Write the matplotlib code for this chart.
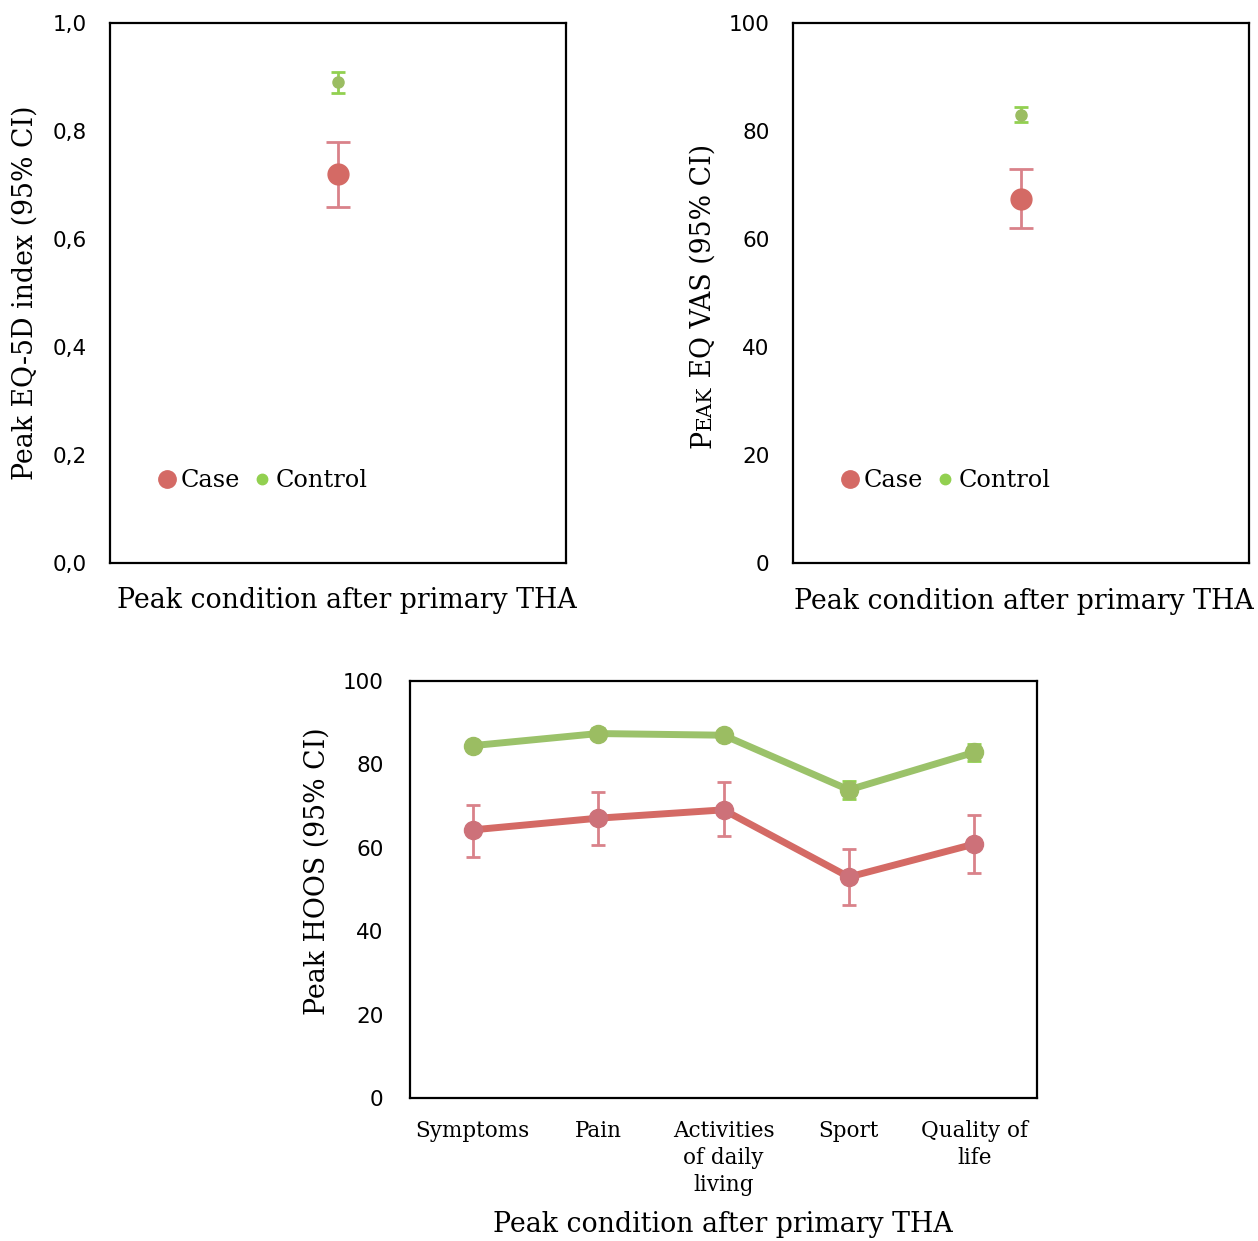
import matplotlib
matplotlib.use("Agg")
import matplotlib.pyplot as plt
from matplotlib.lines import Line2D
import numpy as np

# EQ-5D index (peak condition after primary THA)
eq5d_case = 0.72
eq5d_case_ci = (0.66, 0.78)
eq5d_ctrl = 0.89
eq5d_ctrl_ci = (0.87, 0.91)

# EQ VAS
vas_case = 67.5
vas_case_ci = (62.0, 73.0)
vas_ctrl = 83.0
vas_ctrl_ci = (81.7, 84.5)

# HOOS subscales
hoos_cats = ["Symptoms", "Pain", "Activities\nof daily\nliving", "Sport", "Quality of\nlife"]
hoos_case = [64.3, 67.1, 69.1, 53.0, 60.9]
hoos_case_lo = [57.8, 60.7, 62.8, 46.3, 54.0]
hoos_case_hi = [70.3, 73.4, 75.8, 59.7, 67.9]
hoos_ctrl = [84.5, 87.4, 87.0, 73.9, 82.9]
hoos_ctrl_lo = [83.3, 86.1, 85.8, 71.7, 80.9]
hoos_ctrl_hi = [85.7, 88.7, 88.2, 76.0, 84.9]

RED_LINE = "#D46A65"
RED_MARK = "#CD7179"
RED_ERR = "#D9828A"
GREEN_LINE = "#9BC26A"
GREEN_MARK = "#9BBD62"
GREEN_ERR = "#92D050"
SERIF = "DejaVu Serif"
SANS = "DejaVu Sans"
TITLE_SIZE = 19.3

W, H = 1258, 1241
fig = plt.figure(figsize=(W / 100, H / 100), dpi=100)


def px_axes(x0, y0, x1, y1):
    return fig.add_axes([x0 / W, 1 - y1 / H, (x1 - x0) / W, (y1 - y0) / H])


def style_axes(ax, ypad):
    for s in ax.spines.values():
        s.set_linewidth(1.6)
        s.set_color("black")
    ax.tick_params(axis="y", length=0, pad=ypad, labelsize=15.5)
    ax.tick_params(axis="x", length=0)
    for lab in ax.get_yticklabels():
        lab.set_fontfamily(SANS)


def single_panel(ax, case, case_ci, ctrl, ctrl_ci, ymax, step, fmt):
    ax.errorbar([0], [case], yerr=[[case - case_ci[0]], [case_ci[1] - case]],
                fmt="none", ecolor=RED_ERR, elinewidth=2, capsize=8.5, capthick=2, zorder=2)
    ax.plot([0], [case], "o", color=RED_LINE, ms=15, zorder=3)
    ax.errorbar([0], [ctrl], yerr=[[ctrl - ctrl_ci[0]], [ctrl_ci[1] - ctrl]],
                fmt="none", ecolor=GREEN_ERR, elinewidth=2, capsize=5, capthick=2, zorder=2)
    ax.plot([0], [ctrl], "o", color=GREEN_MARK, ms=8, zorder=3)
    ax.set_xlim(-0.5, 0.5)
    ax.set_ylim(0, ymax)
    ax.set_xticks([])
    ticks = np.arange(0, ymax + step / 2, step)
    ax.set_yticks(ticks)
    ax.set_yticklabels([fmt(t) for t in ticks])
    style_axes(ax, 17)
    handles = [Line2D([], [], ls="none", marker="o", color=RED_LINE, ms=12.5),
               Line2D([], [], ls="none", marker="o", color=GREEN_ERR, ms=7.5)]
    ax.legend(handles, ["Case", "Control"], ncol=2, frameon=False,
              loc="center", bbox_to_anchor=(0.332, 0.152),
              prop={"family": SERIF, "size": 17.3}, handletextpad=0.05,
              columnspacing=0.45, handlelength=1.0)


# top left: EQ-5D index
ax1 = px_axes(110, 23, 566, 563)
single_panel(ax1, eq5d_case, eq5d_case_ci, eq5d_ctrl, eq5d_ctrl_ci, 1.0, 0.2,
             lambda t: f"{t:.1f}".replace(".", ","))

# top right: EQ VAS
ax2 = px_axes(793, 23, 1249, 563)
single_panel(ax2, vas_case, vas_case_ci, vas_ctrl, vas_ctrl_ci, 100, 20,
             lambda t: f"{t:.0f}")

# bottom: HOOS
ax3 = px_axes(410, 681, 1037, 1098)
x = np.arange(len(hoos_cats))
case = np.array(hoos_case)
ctrl = np.array(hoos_ctrl)
ax3.errorbar(x, case, yerr=[case - np.array(hoos_case_lo), np.array(hoos_case_hi) - case],
             fmt="none", ecolor=RED_ERR, elinewidth=2, capsize=5, capthick=2, zorder=2)
ax3.errorbar(x, ctrl, yerr=[ctrl - np.array(hoos_ctrl_lo), np.array(hoos_ctrl_hi) - ctrl],
             fmt="none", ecolor=GREEN_ERR, elinewidth=2, capsize=5, capthick=2, zorder=2)
ax3.plot(x, case, "-", color=RED_LINE, lw=5, zorder=3)
ax3.plot(x, case, "o", color=RED_MARK, ms=13, zorder=4)
ax3.plot(x, ctrl, "-", color=GREEN_LINE, lw=5, zorder=3)
ax3.plot(x, ctrl, "o", color=GREEN_MARK, ms=13, zorder=4)
ax3.set_xlim(-0.5, len(hoos_cats) - 0.5)
ax3.set_ylim(0, 100)
ax3.set_yticks(np.arange(0, 101, 20))
ax3.set_xticks(x)
ax3.set_xticklabels(hoos_cats, family=SERIF, fontsize=15.5, linespacing=1.3)
style_axes(ax3, 19)
ax3.tick_params(axis="x", pad=16)

# axis titles
xlab = "Peak condition after primary THA"
fig.text(347 / W, 1 - 601 / H, xlab, family=SERIF, fontsize=TITLE_SIZE, ha="center", va="center")
fig.text(1024 / W, 1 - 602 / H, xlab, family=SERIF, fontsize=TITLE_SIZE, ha="center", va="center")
fig.text(723 / W, 1 - 1225 / H, xlab, family=SERIF, fontsize=TITLE_SIZE, ha="center", va="center")

fig.text(25 / W, 1 - 293 / H, "Peak EQ-5D index (95% CI)", family=SERIF, fontsize=TITLE_SIZE,
         rotation=90, ha="center", va="center")
fig.text(317 / W, 1 - 871 / H, "Peak HOOS (95% CI)", family=SERIF, fontsize=TITLE_SIZE,
         rotation=90, ha="center", va="center")

# small-caps label "PEAK EQ VAS (95% CI)" built from pieces stacked upward
pieces = [("P", TITLE_SIZE), ("EAK", 14.5), (" EQ VAS (95% CI)", TITLE_SIZE)]
renderer = fig.canvas.get_renderer()
texts = []
ypos = 0.0
for s, size in pieces:
    t = fig.text(711 / W, ypos, s, family=SERIF, fontsize=size, rotation=90,
                 rotation_mode="anchor", ha="left", va="baseline")
    bb = t.get_window_extent(renderer)
    ypos += bb.height / H
    texts.append(t)
shift = (1 - 296 / H) - ypos / 2
for t in texts:
    xx, yy = t.get_position()
    t.set_position((xx, yy + shift))

fig.savefig("out.png", dpi=100)
